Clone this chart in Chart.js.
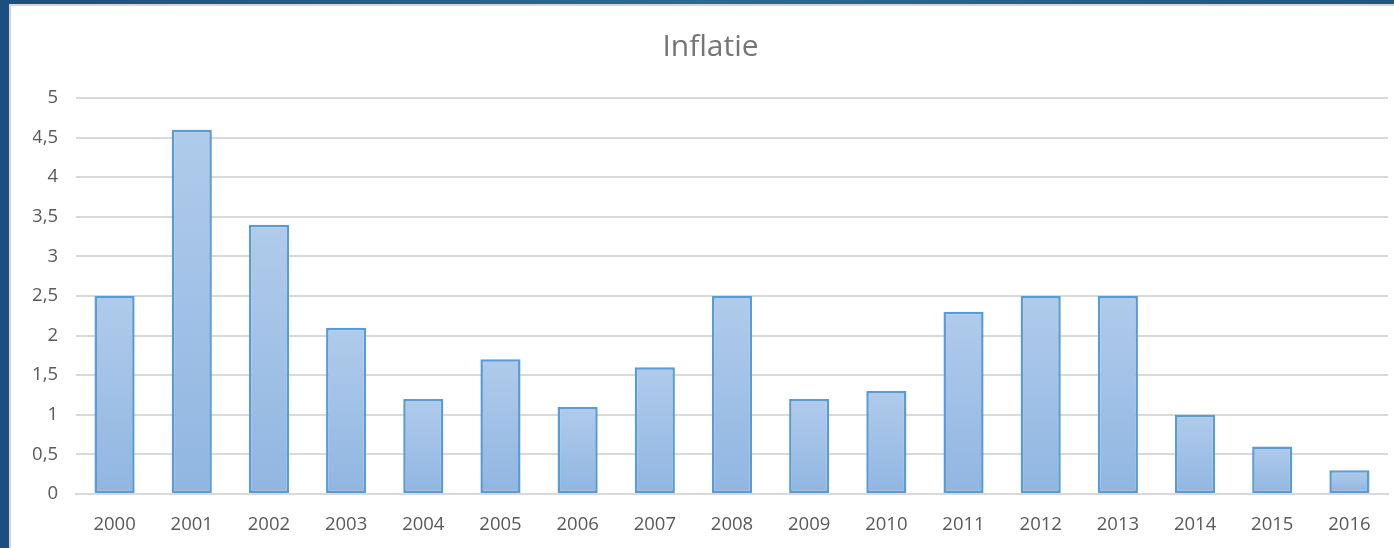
<!DOCTYPE html>
<html>
<head>
<meta charset="utf-8">
<script src="https://cdn.jsdelivr.net/npm/chart.js@4/dist/chart.umd.min.js"></script>
<style>
  html, body { margin: 0; padding: 0; }
  body {
    width: 1394px; height: 548px; overflow: hidden;
    background: linear-gradient(90deg, #1b4f82 0%, #2a6a98 50%, #1d5686 100%);
  }
  #frame {
    position: absolute; left: 9px; top: 4px; width: 1385px; height: 544px;
    background: #ffffff; border-left: 2px solid #d6d6d6; border-top: 2px solid #d6d6d6;
    box-sizing: border-box;
  }
  #wrap { position: absolute; left: 0; top: 0; width: 1383px; height: 542px; }
</style>
</head>
<body>
<div id="frame"><div id="wrap"><canvas id="c"></canvas></div></div>
<script>
const years = ["2000","2001","2002","2003","2004","2005","2006","2007","2008",
               "2009","2010","2011","2012","2013","2014","2015","2016"];
const inflatie = [2.5, 4.6, 3.4, 2.1, 1.2, 1.7, 1.1, 1.6, 2.5, 1.2, 1.3, 2.3, 2.5, 2.5, 1.0, 0.6, 0.3];
const yTicks = [0, 0.5, 1, 1.5, 2, 2.5, 3, 3.5, 4, 4.5, 5];

const tickFont = { family: "'Open Sans', 'Liberation Sans', sans-serif", size: 18.5 };

function barFill(ctx) {
  const chart = ctx.chart;
  const y = chart.scales && chart.scales.y;
  if (!y || ctx.raw === undefined) return "#a2c0e6";
  const top = y.getPixelForValue(ctx.raw);
  const bottom = y.getPixelForValue(0);
  if (!isFinite(top) || !isFinite(bottom) || top === bottom) return "#a2c0e6";
  const g = chart.ctx.createLinearGradient(0, top, 0, bottom);
  g.addColorStop(0, "#b0cbeb");
  g.addColorStop(1, "#90b6e1");
  return g;
}

new Chart(document.getElementById("c"), {
  type: "bar",
  data: {
    labels: years,
    datasets: [{
      label: "Inflatie",
      data: inflatie,
      backgroundColor: barFill,
      borderColor: "#5b9bd5",
      borderWidth: 2.5,
      borderSkipped: false,
      categoryPercentage: 1,
      barPercentage: 0.52,
    }],
  },
  options: {
    responsive: true,
    maintainAspectRatio: false,
    animation: false,
    layout: { padding: { right: 6, left: 22, bottom: 0 } },
    plugins: {
      legend: { display: false },
      tooltip: { enabled: false },
      title: {
        display: true,
        text: "Inflatie",
        color: "#757575",
        font: { family: "'Open Sans', 'Liberation Sans', sans-serif", size: 30, weight: "normal" },
        padding: { top: 23, bottom: 33 },
      },
    },
    scales: {
      x: {
        grid: { display: false },
        border: { display: true, color: "#d9d9d9", width: 2 },
        ticks: { color: "#595959", font: tickFont, padding: 12, maxRotation: 0 },
        afterFit: s => { s.height = 54; },
      },
      y: {
        min: 0,
        max: 5,
        afterBuildTicks: s => { s.ticks = yTicks.map(v => ({ value: v })); },
        grid: { color: "#d9d9d9", lineWidth: 2, drawTicks: false },
        border: { display: false },
        ticks: {
          color: "#595959", font: tickFont, padding: 18,
          callback: v => String(v).replace(".", ","),
        },
        afterFit: s => { s.width = 43; },
      },
    },
  },
});
</script>
</body>
</html>
